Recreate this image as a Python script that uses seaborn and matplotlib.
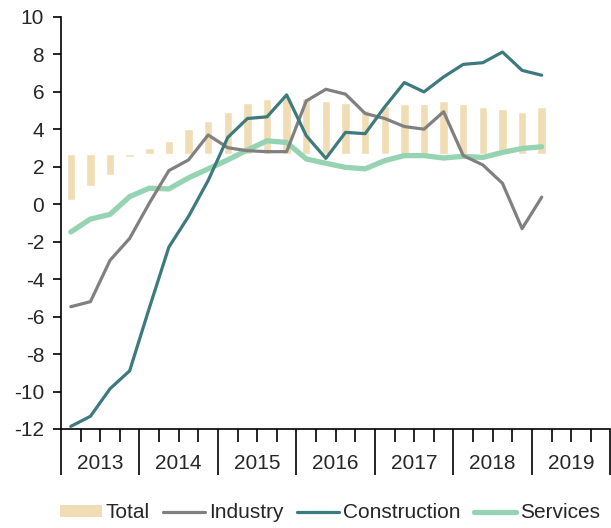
import matplotlib
matplotlib.use("Agg")
import matplotlib.pyplot as plt
import matplotlib.transforms as mtransforms
from matplotlib.patches import Patch
from matplotlib.lines import Line2D
import seaborn as sns
import numpy as np
import pandas as pd

years = ["2013", "2014", "2015", "2016", "2017", "2018", "2019"]
quarters = [f"{y}Q{q}" for y in years for q in range(1, 5)][:25]

total = [0.25, 0.98, 1.55, 2.54, 3.03, 3.37, 4.01, 4.46, 4.92, 5.42, 5.62, 5.72,
         5.66, 5.49, 5.42, 5.02, 5.25, 5.35, 5.35, 5.51, 5.35, 5.19, 5.10, 4.94, 5.19]
industry = [-5.47, -5.2, -2.99, -1.82, 0.06, 1.8, 2.37, 3.7, 3.02, 2.86, 2.81, 2.81,
            5.52, 6.14, 5.88, 4.85, 4.58, 4.15, 4.01, 4.94, 2.6, 2.1, 1.12, -1.3, 0.38]
construction = [-11.86, -11.32, -9.85, -8.89, -5.54, -2.28, -0.65, 1.27, 3.57, 4.58, 4.67, 5.84,
                3.66, 2.45, 3.84, 3.77, 5.2, 6.5, 6.0, 6.8, 7.47, 7.56, 8.13, 7.15, 6.89]
services = [-1.48, -0.79, -0.54, 0.41, 0.86, 0.82, 1.41, 1.89, 2.37, 2.9, 3.39, 3.3,
            2.42, 2.19, 1.97, 1.89, 2.33, 2.6, 2.6, 2.47, 2.56, 2.5, 2.77, 2.98, 3.07]
bar_base = 2.7

c_total = "#F0DDB5"
c_ind = "#808080"
c_con = "#3D7A7D"
c_ser = "#95D3B3"

sns.set_style("white")
plt.rcParams["font.family"] = ["Liberation Sans", "DejaVu Sans"]
fs = 15

fig = plt.figure(figsize=(6.11, 5.28), dpi=100)
ax = fig.add_axes([61/611, 1-429/528, 1-61/611-0.001, (429-17)/528])

pos = np.arange(len(quarters))
df = pd.DataFrame({"pos": pos, "Industry": industry,
                   "Construction": construction, "Services": services})

ax.bar(pos, np.array(total) - bar_base, bottom=bar_base, width=0.43,
       color=c_total, zorder=1)
sns.lineplot(data=df, x="pos", y="Industry", ax=ax, color=c_ind, lw=2.3, zorder=3)
sns.lineplot(data=df, x="pos", y="Construction", ax=ax, color=c_con, lw=2.3, zorder=4)
sns.lineplot(data=df, x="pos", y="Services", ax=ax, color=c_ser, lw=3.8, zorder=2)

ax.set_xlim(-0.5, 27.5)
ax.set_ylim(-12, 10)
ax.set_yticks(np.arange(-12, 11, 2))
ax.set_yticklabels([str(v) for v in range(-12, 11, 2)], fontsize=fs)
ax.tick_params(axis="y", direction="out", length=5.6, width=1.2, color="black", pad=6.5, left=True)
ax.set_xlabel("")
ax.set_ylabel("")

# quarter boundaries (short) and year boundaries (long)
ax.set_xticks(np.arange(-0.5, 28, 4))
ax.set_xticklabels([""] * len(np.arange(-0.5, 28, 4)))
ax.set_xticks(np.arange(-0.5, 28, 1), minor=True)
ax.tick_params(axis="x", which="major", direction="out", length=33, width=1.2, color="black", bottom=True)
ax.tick_params(axis="x", which="minor", direction="out", length=9.5, width=1.2, color="black", bottom=True)

trans = mtransforms.blended_transform_factory(ax.transData, ax.transAxes)
for k, y in enumerate(years):
    ax.annotate(y, xy=(4 * k + 1.5, 0), xycoords=trans, xytext=(0, -24.5),
                textcoords="offset points", ha="center", va="center", fontsize=fs)

for s in ["top", "right"]:
    ax.spines[s].set_visible(False)
for s in ["left", "bottom"]:
    ax.spines[s].set_color("black")
    ax.spines[s].set_linewidth(1.2)

handles = [Patch(facecolor=c_total, edgecolor="none"),
           Line2D([], [], color=c_ind, lw=2.3),
           Line2D([], [], color=c_con, lw=2.3),
           Line2D([], [], color=c_ser, lw=3.8)]
fig.legend(handles, ["Total", "Industry", "Construction", "Services"],
           loc="center", bbox_to_anchor=(0.54, 1-513/528), ncol=4, frameon=False,
           fontsize=fs, handlelength=2.0, handleheight=0.45, handletextpad=0.2,
           columnspacing=0.65, borderaxespad=0)

fig.savefig("out.png", dpi=100)
